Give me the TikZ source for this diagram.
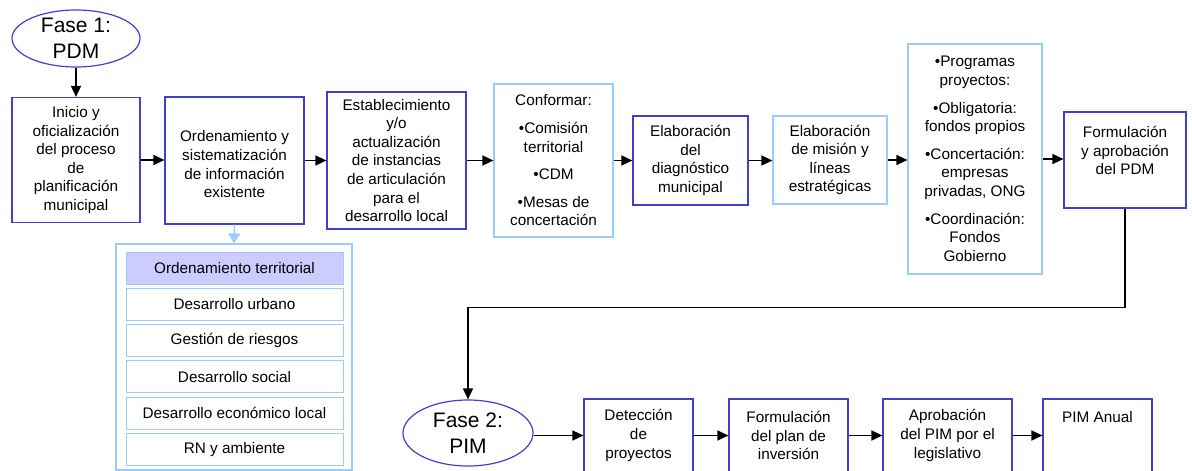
\documentclass[tikz,border=0pt]{standalone}
\usepackage{fontspec}
\setmainfont{Liberation Sans}
\usetikzlibrary{shapes.geometric,arrows.meta}
\definecolor{dkblue}{RGB}{64,64,208}
\definecolor{ltblue}{RGB}{153,204,255}
\definecolor{lavender}{RGB}{204,204,255}

\begin{document}
\begin{tikzpicture}[x=1pt,y=-1pt,font=\fontsize{15.3}{18.6}\selectfont,
  >={Triangle[length=11pt,width=10pt]},
  dbox/.style={draw=dkblue, line width=1.2pt, align=center, inner sep=1pt},
  lbox/.style={draw=ltblue, line width=1.2pt, align=center, inner sep=1pt},
  item/.style={draw=ltblue, line width=1pt, minimum width=217, minimum height=32, inner sep=1pt},
  phase/.style={ellipse, draw=dkblue, line width=1.2pt, align=center, inner sep=0pt, font=\fontsize{21}{25.5}\selectfont},
  flow/.style={->, line width=1.6pt}]
\useasboundingbox (0,0) rectangle (1192,471);
% fase 1
\node[phase, minimum width=128, minimum height=57] (e1) at (76,38.5) {Fase 1:\\PDM};
\node[dbox, minimum width=128, minimum height=125] (b1) at (76,160) {Inicio y\\oficialización\\del proceso\\de\\planificación\\municipal};
\node[dbox, minimum width=139, minimum height=127] (b2) at (234.5,160.5) {\mbox{}\\Ordenamiento y\\sistematización\\de información\\existente};
\node[dbox, minimum width=139, minimum height=137] (b3) at (396.5,160.5) {Establecimiento\\y/o\\actualización\\de instancias\\de articulación\\para el\\desarrollo local};
\node[lbox, minimum width=119, minimum height=153] (b4) at (553.5,160.5) {Conformar:\\[9pt]•Comisión\\territorial\\[9pt]•CDM\\[9pt]•Mesas de\\concertación};
\node[dbox, minimum width=115, minimum height=89] (b5) at (690.5,160.5) {Elaboración\\del\\diagnóstico\\municipal};
\node[lbox, minimum width=114, minimum height=88] (b6) at (830,160) {Elaboración\\de misión y\\líneas\\estratégicas};
\node[lbox, minimum width=134, minimum height=230] (b7) at (975,159) {•Programas\\proyectos:\\[9pt]•Obligatoria:\\fondos propios\\[9pt]•Concertación:\\empresas\\privadas, ONG\\[9pt]•Coordinación:\\Fondos\\Gobierno};
\node[dbox, minimum width=122, minimum height=96] (b8) at (1125,160) {Formulación\\y aprobación\\del PDM\\\mbox{}};
\draw[flow] (e1.south) -- (b1.north);
\draw[flow] (b1.east) -- (b1.east -| b2.west);
\draw[flow] (b2.east) -- (b2.east -| b3.west);
\draw[flow] (b3.east) -- (b3.east -| b4.west);
\draw[flow] (b4.east) -- (b4.east -| b5.west);
\draw[flow] (b5.east) -- (b5.east -| b6.west);
\draw[flow] (b6.east) -- (b6.east -| b7.west);
\draw[flow] (b7.east) -- (b7.east -| b8.west);
% ejes del ordenamiento
\node[lbox, minimum width=236, minimum height=226] (lst) at (234,357) {};
\draw[->, >={Triangle[length=10pt,width=12pt]}, draw=ltblue, fill=ltblue, line width=1.5pt] (b2.south) -- (lst.north);
\node[item, fill=lavender] (it1) at (234.5,268) {Ordenamiento territorial};
\foreach \txt [count=\i from 2] in {Desarrollo urbano, Gestión de riesgos, Desarrollo social, Desarrollo económico local, RN y ambiente}
  \node[item] (it\i) at (234.5,231.7+36.3*\i) {\txt};
% fase 2
\node[phase, minimum width=130, minimum height=66] (e2) at (468,433) {Fase 2:\\PIM};
\node[dbox, minimum width=109, minimum height=73] (p1) at (638.5,435.5) {Detección\\de\\proyectos};
\node[dbox, minimum width=119, minimum height=73] (p2) at (788.5,435.5) {Formulación\\del plan de\\inversión};
\node[dbox, minimum width=129, minimum height=73] (p3) at (947.5,435.5) {Aprobación\\del PIM por el\\legislativo};
\node[dbox, minimum width=109, minimum height=73] (p4) at (1097.5,435.5) {PIM Anual\\\mbox{}\\\mbox{}};
\draw[flow] (b8.south) -- ++(0,99) -| (e2.north);
\draw[flow] (p1.west -| e2.east) -- (p1.west);
\draw[flow] (p1.east) -- (p2.west);
\draw[flow] (p2.east) -- (p3.west);
\draw[flow] (p3.east) -- (p4.west);
\end{tikzpicture}
\end{document}
